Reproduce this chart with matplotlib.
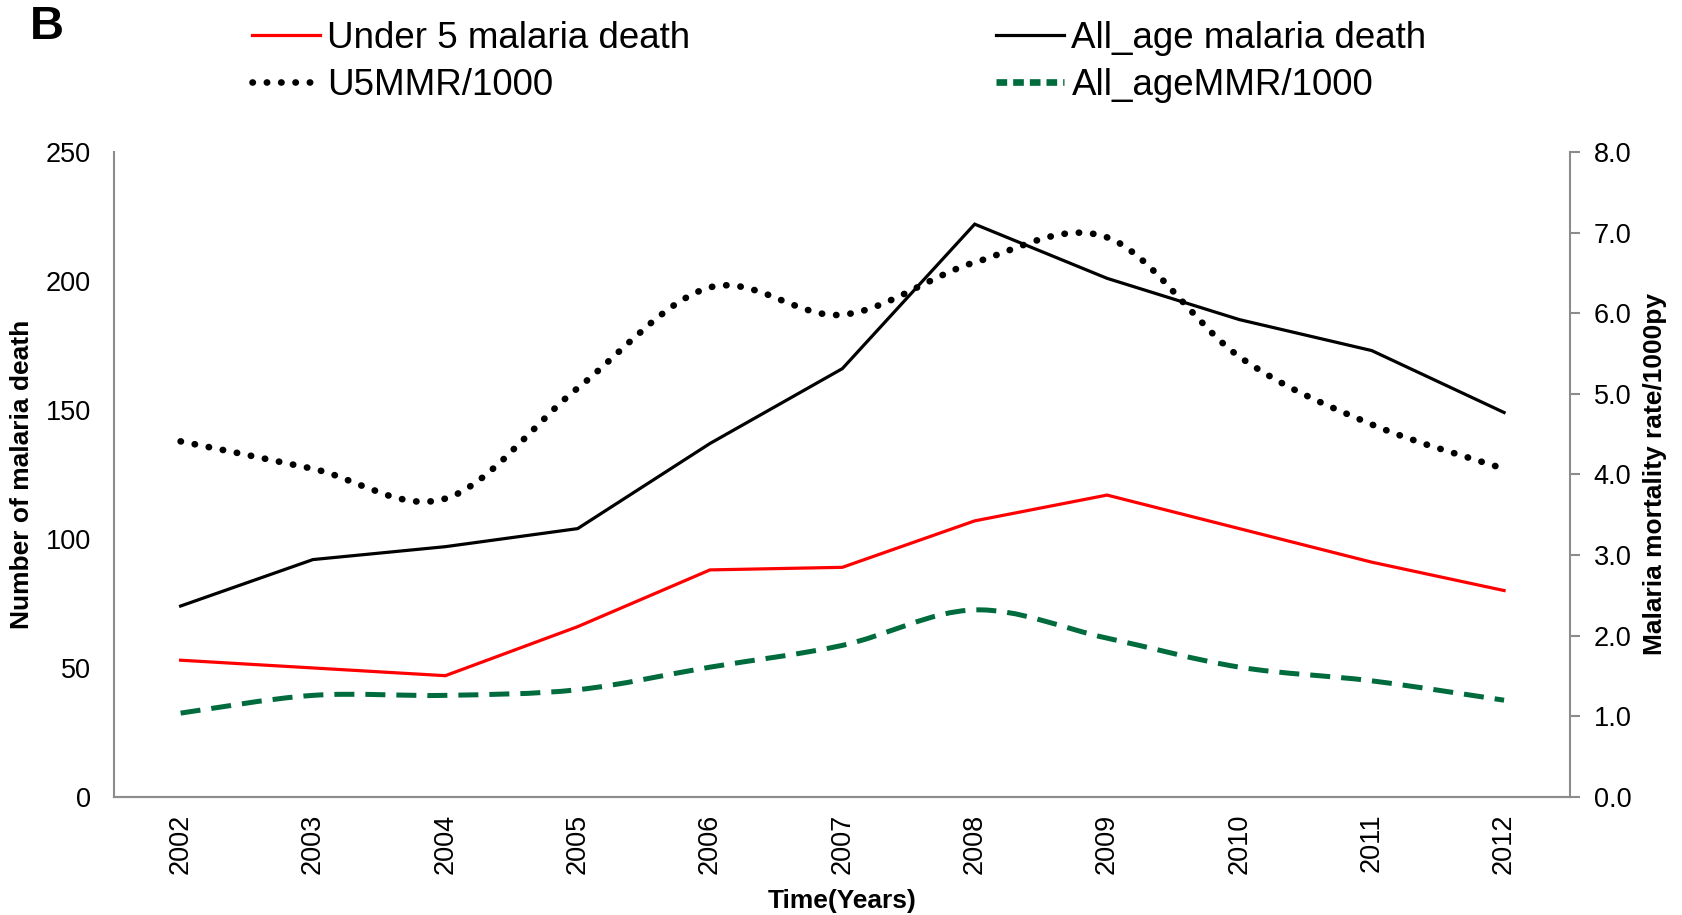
import matplotlib
matplotlib.use('Agg')  # non-interactive backend
import matplotlib.pyplot as plt
import numpy as np
from matplotlib.lines import Line2D
from matplotlib.path import Path
from matplotlib.patches import PathPatch

plt.rcParams['font.family'] = ['Liberation Sans', 'DejaVu Sans']

years = ['2002', '2003', '2004', '2005', '2006', '2007', '2008', '2009', '2010', '2011', '2012']
under5_deaths = [53, 50, 47, 66, 88, 89, 107, 117, 104, 91, 80]
all_age_deaths = [74, 92, 97, 104, 137, 166, 222, 201, 185, 173, 149]
u5_mmr = [4.41, 4.07, 3.70, 5.07, 6.32, 5.98, 6.63, 6.94, 5.46, 4.62, 4.07]
all_age_mmr = [1.04, 1.26, 1.26, 1.33, 1.61, 1.88, 2.32, 1.97, 1.61, 1.44, 1.20]

GREEN = '#006B3C'
GRAY = '#8c8c8c'


def smooth_path(xs, ys):
    """Excel-style smoothed line: cubic bezier through every point."""
    pts = np.column_stack([xs, ys]).astype(float)
    n = len(pts)
    verts = [pts[0]]
    codes = [Path.MOVETO]
    for i in range(n - 1):
        p0 = pts[i - 1] if i > 0 else pts[i]
        p1 = pts[i]
        p2 = pts[i + 1]
        p3 = pts[i + 2] if i + 2 < n else pts[i + 1]
        c1 = p1 + (p2 - p0) / 6.0
        c2 = p2 - (p3 - p1) / 6.0
        verts += [c1, c2, p2]
        codes += [Path.CURVE4] * 3
    return Path(verts, codes)


fig, ax = plt.subplots(figsize=(16.83, 9.15), dpi=100)
fig.subplots_adjust(left=0.068, right=0.933, top=0.834, bottom=0.129)
ax2 = ax.twinx()

x = np.arange(len(years))

ax.plot(x, under5_deaths, color='red', lw=2.3, solid_joinstyle='miter')
ax.plot(x, all_age_deaths, color='black', lw=2.3, solid_joinstyle='miter')

dotted = PathPatch(smooth_path(x, u5_mmr), fill=False, edgecolor='black', lw=4.8,
                   linestyle=(0, (0.05, 2.1)), capstyle='round')
dashed = PathPatch(smooth_path(x, all_age_mmr), fill=False, edgecolor=GREEN, lw=3.6,
                   linestyle=(0, (4, 2.2)), capstyle='butt')
ax2.add_patch(dotted)
ax2.add_patch(dashed)

ax.set_xlim(-0.5, len(years) - 0.5)
ax.set_ylim(0, 250)
ax.set_yticks(range(0, 251, 50))
ax2.set_ylim(0, 8)
ax2.set_yticks(np.arange(0, 8.1, 1))
ax2.set_yticklabels([f'{v:.1f}' for v in np.arange(0, 8.1, 1)])

ax.set_xticks(x)
ax.set_xticklabels(years, rotation=90)

for a in (ax, ax2):
    a.spines['top'].set_visible(False)
    for s in ('left', 'right', 'bottom'):
        a.spines[s].set_color(GRAY)
        a.spines[s].set_linewidth(1.5)
ax2.spines['left'].set_visible(False)
ax.spines['right'].set_visible(False)

ax.tick_params(axis='both', length=0, labelsize=19.5, pad=12)
ax.tick_params(axis='y', pad=17)
ax2.tick_params(axis='y', length=7, width=1.5, color=GRAY, direction='out',
                labelsize=19.5, pad=10)

ax.set_ylabel('Number of malaria death', fontsize=19, fontweight='bold', labelpad=8)
ax2.set_ylabel('Malaria mortality rate/1000py', fontsize=19, fontweight='bold', labelpad=8)
ax.set_xlabel('Time(Years)', fontsize=19, fontweight='bold', labelpad=11)

handles = [
    Line2D([], [], color='red', lw=2.3),
    Line2D([], [], color='black', lw=4.8, linestyle=(0, (0.05, 2.1)), dash_capstyle='round'),
    Line2D([], [], color='black', lw=2.3),
    Line2D([], [], color=GREEN, lw=4.8, linestyle=(0, (1.6, 0.9))),
]
labels = ['Under 5 malaria death', 'U5MMR/1000', 'All_age malaria death', 'All_ageMMR/1000']
fig.legend(handles, labels, ncol=2, loc='upper left', bbox_to_anchor=(0.13, 1.013),
           frameon=False, fontsize=26.5, handlelength=1.85, handletextpad=0.2,
           columnspacing=8.3, labelspacing=0.32)

fig.text(0.018, 0.97, 'B', fontsize=34, fontweight='bold', va='center', ha='left')

fig.savefig('out.png', dpi=100)
